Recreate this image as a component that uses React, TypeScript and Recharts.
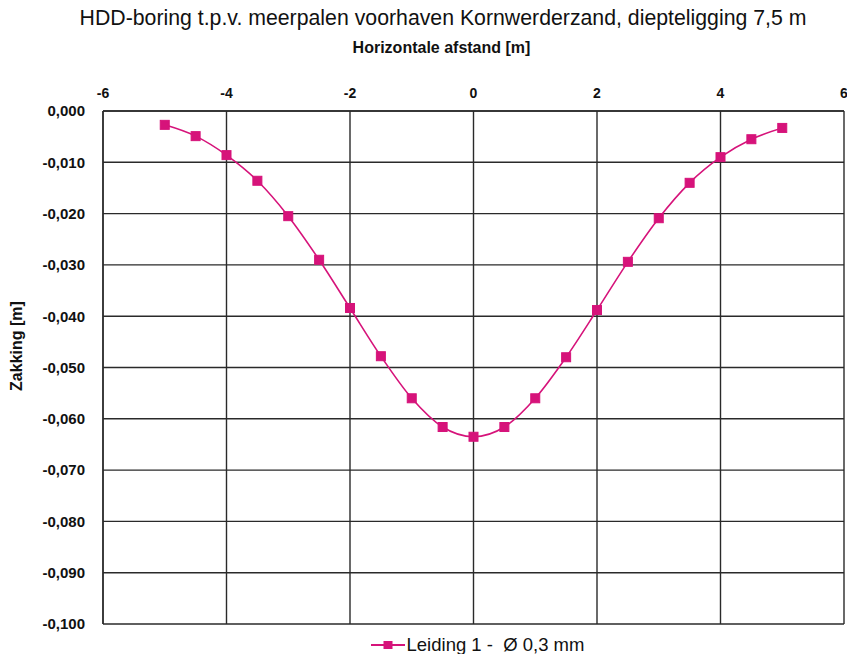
import React from "react";
import { LineChart, Line, XAxis, YAxis, CartesianGrid, Legend } from "recharts";

const afstand = [-5, -4.5, -4, -3.5, -3, -2.5, -2, -1.5, -1, -0.5, 0, 0.5, 1, 1.5, 2, 2.5, 3, 3.5, 4, 4.5, 5];
const zakking = [
  -0.0027, -0.0049, -0.0086, -0.0136, -0.0205, -0.029, -0.0384, -0.0478, -0.056, -0.0616, -0.0635,
  -0.0616, -0.056, -0.048, -0.0388, -0.0294, -0.0209, -0.014, -0.009, -0.0055, -0.0033,
];
const xTicks = [-6, -4, -2, 0, 2, 4, 6];
const yTicks = [0, -0.01, -0.02, -0.03, -0.04, -0.05, -0.06, -0.07, -0.08, -0.09, -0.1];
const seriesName = "Leiding 1 -  Ø 0,3 mm";
const title = "HDD-boring t.p.v. meerpalen voorhaven Kornwerderzand, diepteligging 7,5 m";
const xLabel = "Horizontale afstand [m]";
const yLabel = "Zakking [m]";

const data = afstand.map((x, i) => ({ x, y: zakking[i] }));

const COLOR = "#d6137a";
const FONT = "'Liberation Sans', Arial, sans-serif";

const SquareDot = (props: any) => {
  const { cx, cy, index } = props;
  if (cx == null || cy == null) return null;
  return <rect key={`d${index}`} x={cx - 4.5} y={cy - 4.5} width={9} height={9} fill={COLOR} stroke={COLOR} />;
};

const LegendContent = () => (
  <div
    style={{
      display: "flex",
      alignItems: "center",
      justifyContent: "center",
      fontFamily: FONT,
      fontSize: 18.5,
      color: "#111",
      transform: "translate(49px, 10px)",
    }}
  >
    <svg width={34} height={12} style={{ marginRight: 2 }}>
      <line x1={0} y1={6} x2={34} y2={6} stroke={COLOR} strokeWidth={2} />
      <rect x={12.5} y={2} width={9} height={8} fill={COLOR} />
    </svg>
    <span style={{ whiteSpace: "pre" }}>{seriesName}</span>
  </div>
);

export default function App() {
  return (
    <div style={{ position: "absolute", left: 0, top: 0, width: 847, height: 654, background: "#fff", overflow: "hidden" }}>
      <div
        style={{
          position: "absolute",
          left: 442.5,
          top: 5,
          transform: "translateX(-50%) scaleX(0.967)",
          fontFamily: FONT,
          fontSize: 22,
          color: "#111",
          whiteSpace: "nowrap",
        }}
      >
        {title}
      </div>
      <div
        style={{
          position: "absolute",
          left: 441.5,
          top: 39,
          transform: "translateX(-50%)",
          fontFamily: FONT,
          fontSize: 16,
          fontWeight: "bold",
          color: "#111",
          whiteSpace: "nowrap",
        }}
      >
        {xLabel}
      </div>
      <div
        style={{
          position: "absolute",
          left: 17,
          top: 346,
          transform: "translate(-50%, -50%) rotate(-90deg)",
          fontFamily: FONT,
          fontSize: 16,
          fontWeight: "bold",
          color: "#111",
          whiteSpace: "nowrap",
        }}
      >
        {yLabel}
      </div>
      <LineChart width={847} height={654} data={data} margin={{ top: 81, right: 3, bottom: 10, left: 13 }}>
        <CartesianGrid stroke="#2a2a2a" strokeWidth={1.4} horizontal vertical />
        <XAxis
          dataKey="x"
          type="number"
          orientation="top"
          domain={[-6, 6]}
          ticks={xTicks}
          tickLine={false}
          axisLine={{ stroke: "#2a2a2a", strokeWidth: 1.4 }}
          height={30}
          tick={{ fontFamily: FONT, fontSize: 14, fontWeight: "bold", fill: "#111" }}
          tickMargin={7}
          interval={0}
        />
        <YAxis
          type="number"
          domain={[-0.1, 0]}
          ticks={yTicks}
          tickLine={false}
          axisLine={{ stroke: "#2a2a2a", strokeWidth: 1.4 }}
          width={90}
          tickFormatter={(v: number) => v.toFixed(3).replace(".", ",").replace("-0,000", "0,000")}
          tick={{ fontFamily: FONT, fontSize: 15, fontWeight: "bold", fill: "#111" }}
          tickMargin={12}
          interval={0}
        />
        <Legend verticalAlign="bottom" height={20} content={<LegendContent />} />
        <Line
          dataKey="y"
          name={seriesName}
          type="monotone"
          stroke={COLOR}
          strokeWidth={1.6}
          dot={<SquareDot />}
          activeDot={false}
          isAnimationActive={false}
        />
      </LineChart>
    </div>
  );
}
